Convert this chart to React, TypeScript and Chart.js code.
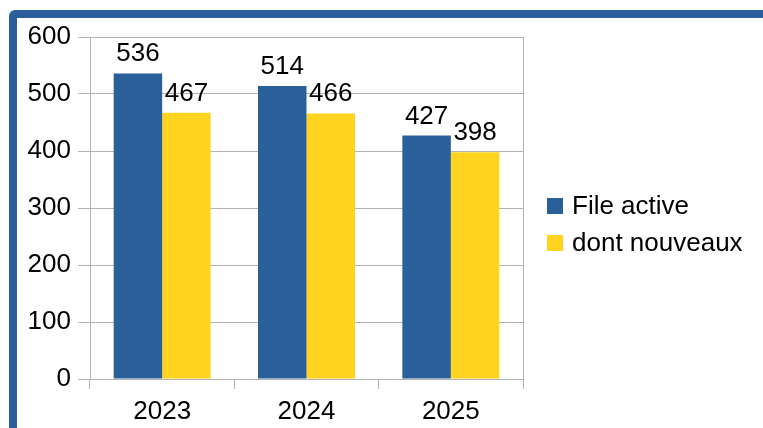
import React, { useEffect, useRef } from "react";
import { Chart, registerables } from "chart.js";

Chart.register(...registerables);

const categories = ["2023", "2024", "2025"];
const fileActive = [536, 514, 427];
const dontNouveaux = [467, 466, 398];
const seriesNames = ["File active", "dont nouveaux"];
const seriesColors = ["#2a6099", "#ffd320"];
const yMin = 0;
const yMax = 600;
const yStep = 100;

const FONT = "'Liberation Sans', Arial, sans-serif";
const GRID = "#b3b3b3";

const valueLabels = {
  id: "valueLabels",
  afterDatasetsDraw(chart: any) {
    const ctx = chart.ctx;
    ctx.save();
    ctx.font = `26px ${FONT}`;
    ctx.fillStyle = "#000";
    ctx.textAlign = "center";
    ctx.textBaseline = "alphabetic";
    chart.data.datasets.forEach((ds: any, di: number) => {
      const meta = chart.getDatasetMeta(di);
      meta.data.forEach((el: any, i: number) => {
        ctx.fillText(String(ds.data[i]), el.x, el.y - 12);
      });
    });
    ctx.restore();
  },
};

const sideLegend = {
  id: "sideLegend",
  afterDraw(chart: any) {
    const ctx = chart.ctx;
    const area = chart.chartArea;
    ctx.save();
    ctx.font = `26px ${FONT}`;
    ctx.textAlign = "left";
    ctx.textBaseline = "middle";
    const x0 = area.right + 24;
    const rowYs = [206, 243];
    chart.data.datasets.forEach((ds: any, i: number) => {
      const cy = rowYs[i];
      ctx.fillStyle = ds.backgroundColor;
      ctx.fillRect(x0, cy - 8, 16, 16);
      ctx.fillStyle = "#000";
      ctx.fillText(ds.label, x0 + 25, cy + 1);
    });
    ctx.restore();
  },
};

export default function App() {
  const ref = useRef<HTMLCanvasElement | null>(null);

  useEffect(() => {
    if (!ref.current) return;
    const chart = new Chart(ref.current, {
      type: "bar",
      data: {
        labels: categories,
        datasets: [
          {
            label: seriesNames[0],
            data: fileActive,
            backgroundColor: seriesColors[0],
            borderWidth: 0,
            categoryPercentage: 0.672,
            barPercentage: 1,
          },
          {
            label: seriesNames[1],
            data: dontNouveaux,
            backgroundColor: seriesColors[1],
            borderWidth: 0,
            categoryPercentage: 0.672,
            barPercentage: 1,
          },
        ],
      },
      options: {
        animation: false,
        responsive: false,
        devicePixelRatio: 1,
        layout: { padding: { top: 37, right: 240, bottom: 0, left: 0 } },
        plugins: {
          legend: { display: false },
          tooltip: { enabled: false },
        },
        scales: {
          x: {
            offset: true,
            grid: {
              offset: true,
              drawOnChartArea: true,
              color: (c: any) => (c.type === "scale" ? GRID : "rgba(0,0,0,0)"),
              tickColor: GRID,
              tickLength: 10,
              lineWidth: 1,
            },
            border: { display: true, color: GRID },
            ticks: {
              color: "#000",
              font: { family: FONT, size: 26 },
              padding: 7,
              maxRotation: 0,
            },
            afterFit: (s: any) => {
              s.height = 49;
            },
          },
          y: {
            min: yMin,
            max: yMax,
            ticks: {
              stepSize: yStep,
              color: "#000",
              font: { family: FONT, size: 26 },
              padding: 7,
            },
            grid: {
              color: GRID,
              tickColor: GRID,
              tickLength: 12,
              lineWidth: 1,
            },
            border: { display: true, color: GRID },
            afterFit: (s: any) => {
              s.width = 90;
            },
          },
        },
      },
      plugins: [valueLabels, sideLegend],
    });
    return () => chart.destroy();
  }, []);

  return (
    <div
      style={{
        position: "fixed",
        left: 0,
        top: 0,
        width: 763,
        height: 428,
        overflow: "hidden",
        background: "#fff",
      }}
    >
      <div
        style={{
          position: "absolute",
          left: 9,
          top: 10,
          width: 900,
          height: 600,
          border: "8px solid #2b5e9c",
          borderRadius: 6,
          boxSizing: "border-box",
        }}
      />
      <canvas
        ref={ref}
        width={763}
        height={428}
        style={{ position: "absolute", left: 0, top: 0, width: 763, height: 428 }}
      />
    </div>
  );
}
